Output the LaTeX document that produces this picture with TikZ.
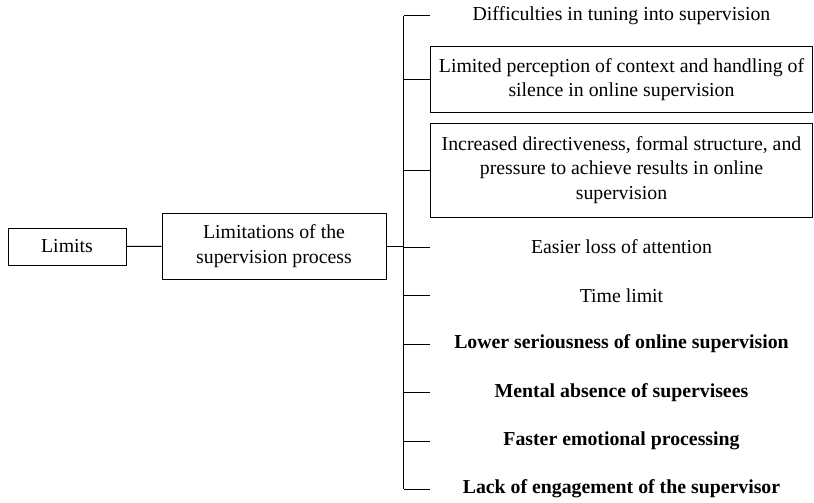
\documentclass[tikz,border=0pt]{standalone}
\usepackage{fontspec}
\setmainfont{Liberation Serif}
\begin{document}
\begin{tikzpicture}[x=1pt,y=-1pt,
  every node/.style={font=\fontsize{19.8}{24.5}\selectfont, align=center, inner sep=0pt},
  box/.style={draw, line width=1pt},
  item/.style={minimum width=382.5pt},
  bolditem/.style={item, font=\fontsize{19.8}{24.5}\selectfont\bfseries},
  conn/.style={line width=1pt}]
\useasboundingbox (0,0) rectangle (814,503);
\node[box, minimum width=118pt, minimum height=37pt] (limits) at (67,246.5) {Limits};
\node[box, minimum width=224pt, minimum height=66pt] (lsp) at (274,246) {Limitations of the\\supervision process};
\coordinate (trunk) at (403.5,246);
\node[item] (n1) at (621.5,16) {Difficulties in tuning into supervision};
\node[item, box, minimum height=65pt] (n2) at (621.5,79.5) {Limited perception of context and handling of\\silence in online supervision};
\node[item, box, minimum height=94pt] (n3) at (621.5,170) {Increased directiveness, formal structure, and\\pressure to achieve results in online\\supervision};
\node[item] (n4) at (621.5,247) {Easier loss of attention};
\node[item] (n5) at (621.5,295.5) {Time limit};
\node[bolditem] (n6) at (621.5,344) {Lower seriousness of online supervision};
\node[bolditem] (n7) at (621.5,392.5) {Mental absence of supervisees};
\node[bolditem] (n8) at (621.5,441) {Faster emotional processing};
\node[bolditem] (n9) at (621.5,489) {Lack of engagement of the supervisor};
\draw[conn] (limits) -- (lsp);
\draw[conn] (lsp.east) -- (trunk);
\draw[conn] (n1.west -| trunk) -- (n9.west -| trunk);
\foreach \n in {n1,n2,n3,n4,n5,n6,n7,n8,n9}
  \draw[conn] (\n.west -| trunk) -- (\n.west);
\end{tikzpicture}
\end{document}
